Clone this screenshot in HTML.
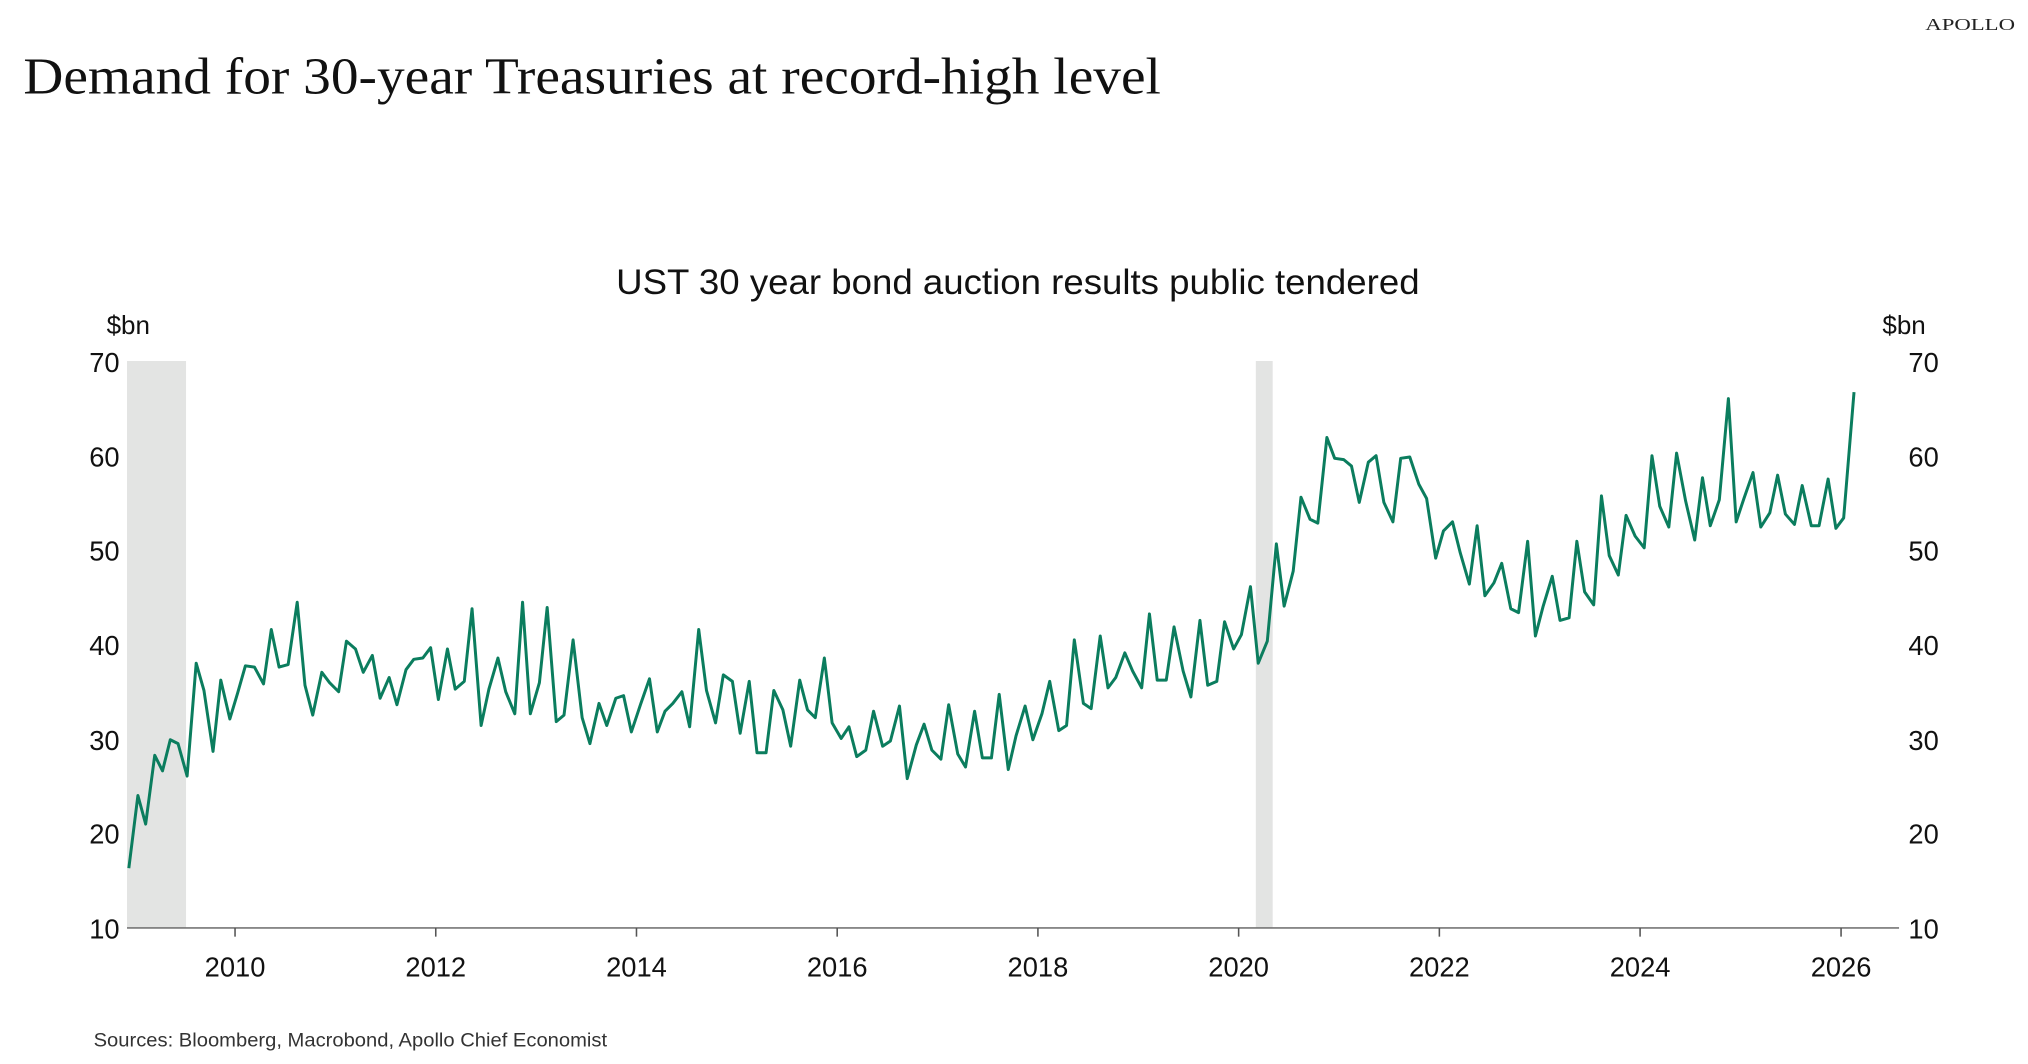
<!DOCTYPE html>
<html><head><meta charset="utf-8"><style>html,body{margin:0;padding:0;background:#fff;}svg{display:block}</style></head>
<body>
<svg width="2028" height="1064" viewBox="0 0 1560 818.46" xmlns="http://www.w3.org/2000/svg">
<text x="1481" y="23" font-family="Liberation Serif, serif" font-size="13" textLength="69" lengthAdjust="spacingAndGlyphs" fill="#222">APOLLO</text>
<text x="18" y="72" font-family="Liberation Serif, serif" font-size="40" textLength="875" lengthAdjust="spacingAndGlyphs" fill="#111">Demand for 30-year Treasuries at record-high level</text>
<text x="783" y="226" text-anchor="middle" font-family="Liberation Sans, sans-serif" font-size="27" textLength="618" lengthAdjust="spacingAndGlyphs" fill="#111">UST 30 year bond auction results public tendered</text>
<text x="82" y="257" font-family="Liberation Sans, sans-serif" font-size="20" fill="#111">$bn</text>
<text x="1448" y="257" font-family="Liberation Sans, sans-serif" font-size="20" fill="#111">$bn</text>
<rect x="97.7" y="277.7" width="45.4" height="436.1" fill="#e3e4e3"/>
<rect x="966" y="277.7" width="13" height="436.1" fill="#e3e4e3"/>
<g font-family="Liberation Sans, sans-serif" font-size="21" fill="#111">
<g text-anchor="end">
<text x="92" y="286">70</text><text x="92" y="359">60</text><text x="92" y="431">50</text><text x="92" y="504">40</text><text x="92" y="577">30</text><text x="92" y="649">20</text><text x="92" y="722">10</text>
</g>
<g>
<text x="1468" y="286">70</text><text x="1468" y="359">60</text><text x="1468" y="431">50</text><text x="1468" y="504">40</text><text x="1468" y="577">30</text><text x="1468" y="649">20</text><text x="1468" y="722">10</text>
</g>
<g text-anchor="middle">
<text x="180.8" y="751">2010</text><text x="335.2" y="751">2012</text><text x="489.6" y="751">2014</text><text x="644" y="751">2016</text><text x="798.4" y="751">2018</text><text x="952.8" y="751">2020</text><text x="1107.2" y="751">2022</text><text x="1261.6" y="751">2024</text><text x="1416.2" y="751">2026</text>
</g>
</g>
<line x1="97.7" y1="713.8" x2="1460.8" y2="713.8" stroke="#777" stroke-width="1.3"/>
<g stroke="#555" stroke-width="1.2">
<line x1="180.8" y1="713.8" x2="180.8" y2="720.5"/><line x1="335.2" y1="713.8" x2="335.2" y2="720.5"/><line x1="489.6" y1="713.8" x2="489.6" y2="720.5"/><line x1="644" y1="713.8" x2="644" y2="720.5"/><line x1="798.4" y1="713.8" x2="798.4" y2="720.5"/><line x1="952.8" y1="713.8" x2="952.8" y2="720.5"/><line x1="1107.2" y1="713.8" x2="1107.2" y2="720.5"/><line x1="1261.6" y1="713.8" x2="1261.6" y2="720.5"/><line x1="1416.2" y1="713.8" x2="1416.2" y2="720.5"/>
</g>
<polyline transform="matrix(0.9963 0 0 0.9977 -0.53 -2.65)" fill="none" stroke="#0b7d5e" stroke-width="2.3" stroke-linejoin="round" points="100,672 107,616 113,638 120,585 126,597 132,573 138,576 145,601 152,514 158,535 165,582 171,527 178,557 184,537 190,516 197,517 204,530 210,488 216,517 223,515 230,467 236,531 242,554 249,521 255,529 262,536 268,497 275,503 281,521 288,508 294,541 301,525 307,546 314,519 320,511 327,510 333,502 339,542 346,503 352,534 359,528 365,472 372,562 378,534 385,510 391,536 398,553 404,467 410,553 417,529 423,471 430,559 436,554 443,496 450,556 456,576 463,545 469,562 476,541 482,539 488,567 495,546 502,526 508,567 514,551 520,545 527,536 533,563 540,488 546,535 553,560 559,523 566,528 572,568 579,528 585,583 592,583 598,535 605,550 611,578 618,527 624,550 630,556 637,510 643,560 650,572 656,563 662,586 669,581 675,551 682,578 688,574 695,547 701,603 708,577 714,561 720,581 727,588 733,546 740,584 746,594 753,551 759,587 766,587 772,538 779,596 785,570 792,547 798,573 805,553 811,528 818,566 824,562 830,496 837,545 843,549 850,493 856,533 862,525 869,506 875,520 882,533 888,476 894,527 901,527 907,486 914,520 920,540 927,481 933,531 940,528 946,482 953,503 959,492 966,455 972,514 979,497 986,422 992,470 999,443 1005,386 1012,403 1018,406 1025,340 1031,356 1038,357 1044,362 1050,390 1057,359 1063,354 1069,390 1076,405 1082,356 1089,355 1096,376 1102,387 1109,433 1115,412 1122,405 1128,429 1135,453 1141,408 1147,462 1154,452 1160,437 1167,472 1173,475 1180,420 1186,493 1192,470 1199,447 1205,481 1212,479 1218,420 1224,459 1231,469 1237,385 1243,431 1250,446 1256,400 1263,416 1270,425 1276,354 1282,393 1289,409 1295,352 1302,389 1309,419 1315,371 1321,408 1328,388 1335,310 1341,405 1347,387 1354,367 1360,409 1367,398 1373,369 1379,399 1386,407 1392,377 1399,408 1405,408 1412,372 1418,410 1424,402 1432,305"/>
<text x="72" y="805" font-family="Liberation Sans, sans-serif" font-size="15" textLength="395" lengthAdjust="spacingAndGlyphs" fill="#333">Sources: Bloomberg, Macrobond, Apollo Chief Economist</text>
</svg>
</body></html>
